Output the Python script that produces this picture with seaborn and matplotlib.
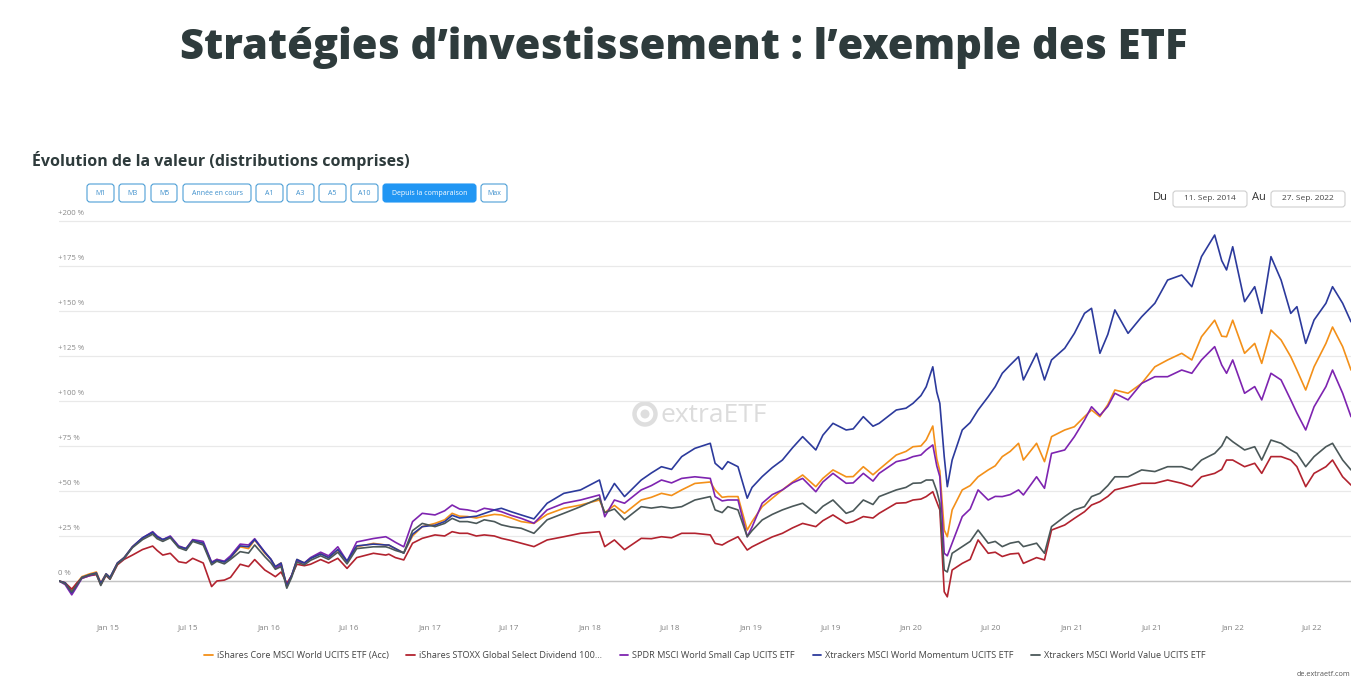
import matplotlib
matplotlib.use("Agg")
import matplotlib.pyplot as plt
import matplotlib.transforms as mtransforms
from matplotlib.patches import FancyBboxPatch, Circle
import seaborn as sns
import pandas as pd

# ---------------- data ----------------
dates = [
    "2014-09-11", "2014-09-25", "2014-10-10", "2014-10-22", "2014-11-02", "2014-11-20", "2014-12-05",
    "2014-12-15", "2014-12-27", "2015-01-05", "2015-01-22", "2015-02-06", "2015-02-25", "2015-03-20",
    "2015-04-12", "2015-04-22", "2015-05-05", "2015-05-22", "2015-06-10", "2015-06-27", "2015-07-12",
    "2015-08-05", "2015-08-24", "2015-09-05", "2015-09-22", "2015-10-06", "2015-10-28", "2015-11-16",
    "2015-11-30", "2015-12-23", "2016-01-06", "2016-01-16", "2016-01-29", "2016-02-11", "2016-02-22",
    "2016-03-05", "2016-03-22", "2016-04-05", "2016-04-28", "2016-05-16", "2016-06-06", "2016-06-27",
    "2016-07-19", "2016-08-26", "2016-09-23", "2016-09-30", "2016-10-15", "2016-11-03", "2016-11-23",
    "2016-12-15", "2017-01-13", "2017-02-04", "2017-02-21", "2017-03-10", "2017-03-28", "2017-04-17",
    "2017-05-05", "2017-05-28", "2017-06-13", "2017-07-05", "2017-07-28", "2017-08-26", "2017-09-25",
    "2017-11-02", "2017-12-10", "2018-01-22", "2018-02-03", "2018-02-25", "2018-03-20", "2018-04-27",
    "2018-05-20", "2018-06-12", "2018-07-05", "2018-07-28", "2018-08-27", "2018-10-01", "2018-10-12",
    "2018-10-28", "2018-11-10", "2018-12-03", "2018-12-24", "2019-01-04", "2019-01-27", "2019-02-19",
    "2019-03-14", "2019-04-06", "2019-04-29", "2019-05-29", "2019-06-14", "2019-07-07", "2019-08-06",
    "2019-08-22", "2019-09-14", "2019-10-06", "2019-10-20", "2019-11-28", "2019-12-20", "2020-01-05",
    "2020-01-23", "2020-02-04", "2020-02-19", "2020-02-28", "2020-03-06", "2020-03-16", "2020-03-23",
    "2020-04-03", "2020-04-26", "2020-05-14", "2020-06-01", "2020-06-24", "2020-07-10", "2020-07-26",
    "2020-08-13", "2020-09-01", "2020-09-12", "2020-10-12", "2020-10-30", "2020-11-15", "2020-12-15",
    "2021-01-06", "2021-01-29", "2021-02-14", "2021-03-05", "2021-03-23", "2021-04-08", "2021-05-08",
    "2021-06-08", "2021-07-08", "2021-08-06", "2021-09-07", "2021-09-30", "2021-10-22", "2021-11-21",
    "2021-12-07", "2021-12-18", "2022-01-01", "2022-01-28", "2022-02-20", "2022-03-08", "2022-03-29",
    "2022-04-21", "2022-05-13", "2022-05-27", "2022-06-16", "2022-07-05", "2022-08-01", "2022-08-16",
    "2022-09-08", "2022-09-27",
]

ishares_core_world = [
    0, -1, -5.5, -1, 2.4, 4, 5, -1, 4, 2, 10, 13, 19, 23.8, 27, 24, 22.8, 24.6, 19, 18, 22.8,
    20.9, 10, 12, 10.7, 13, 19, 18, 22.8, 15.4, 12, 8, 10, -3, 3, 11.9, 10, 12.6, 15.4, 13, 17.2,
    10.7, 19, 20.9, 20, 19.9, 18, 15.6, 25, 30.2, 32, 34, 37.6, 36, 35.8, 35, 36, 37, 36.7, 35, 33,
    32, 37, 40.4, 42.2, 45, 38, 42, 37.6, 45, 46.5, 48.7, 47.5, 50.6, 54.2, 55, 50.6, 46.5, 46.9,
    46.9, 28.3, 33, 41.3, 46, 50.6, 55, 58.9, 52.4, 57, 61.7, 57.9, 58, 63.5, 59, 62, 70, 72, 74.6,
    75, 78.4, 86.1, 68, 61.1, 28.3, 24.6, 39.5, 50.6, 53, 57.9, 61.7, 64, 69.1, 72, 76.5, 67.2,
    76.5, 66.3, 80.2, 83.9, 85.7, 91.3, 95, 91.3, 98, 106.1, 104.3, 109.8, 119, 122.8, 126.5, 122.8,
    135.7, 144.9, 136, 135.7, 144.9, 126.5, 132, 120.9, 139.4, 133.9, 124.6, 117.2, 106.1, 119, 132,
    141.1, 130.2, 117.2,
]

ishares_stoxx_dividend = [
    0, -1, -4.5, -1, 1.5, 3, 3.5, -2, 3, 1, 9, 12, 14.4, 17.5, 19.4, 17, 14.4, 15.4, 10.7, 10, 12.6,
    10, -3.1, 0, 0.5, 2, 9.3, 8, 11.9, 6.1, 4, 2.4, 5, -1.3, 3, 9.3, 8.5, 9.3, 11.9, 10, 12.6, 7, 13,
    15.4, 14.4, 14.9, 13, 11.7, 21, 23.7, 25.6, 25, 27.4, 26.5, 26.5, 25, 25.6, 25, 23.7, 22.5, 21,
    19.1, 22.8, 24.6, 26.5, 27.4, 19.1, 22.8, 17.4, 23.7, 23.5, 24.6, 24, 26.5, 26.5, 25.6, 20.9, 20,
    21.8, 24.6, 17.2, 19, 21.8, 24.5, 26.5, 29.5, 32, 30.2, 33.5, 36.7, 32, 33, 35.8, 35, 37.6, 43.2,
    43.5, 45, 45.5, 46.9, 49.6, 44, 39.5, -6, -8.8, 6.1, 9.8, 12, 22.8, 15.4, 16, 13.6, 15, 15.4, 9.8,
    13, 11.7, 28.3, 31.1, 34.8, 38.5, 42.2, 44.1, 47, 50.6, 52.4, 54.3, 54.3, 56.1, 54.3, 52.4, 57.9,
    59.8, 62, 67.2, 67.2, 63.5, 65.4, 59.8, 69.1, 69.1, 67.2, 63.5, 52.4, 59.8, 63.5, 67.2, 57.9, 53.3,
]

spdr_world_small_cap = [
    0, -2, -7.7, -3, 1.5, 3, 4, -1.5, 3.5, 1.5, 10, 12.5, 19, 24, 27.4, 25, 23, 25, 19.5, 18, 23, 22,
    10.5, 12, 11, 14, 20.5, 20, 23.5, 16, 12, 7, 9, -3, 3, 11, 10, 13, 16, 14, 19, 11, 21.7, 23.6,
    24.6, 23.7, 21.5, 19, 33, 37.6, 36.7, 39, 42.2, 40, 39.5, 38.5, 40.4, 39.5, 38.5, 36.5, 34.8,
    32.1, 39.5, 43.2, 45, 47.8, 35.7, 45, 43.2, 50.6, 53, 56.1, 54.5, 57, 57.9, 57, 46.9, 44.5, 45,
    45, 24.6, 30, 43.2, 48, 50.6, 54.5, 57, 49.6, 55, 59.8, 54.3, 54.5, 59.8, 55.5, 59.8, 66.3, 67.5,
    69.1, 70, 72.8, 75.6, 64, 58, 15.4, 14, 21, 35.8, 40, 50.6, 45, 47, 46.9, 48, 50.6, 47.8, 57.9,
    51.5, 70.9, 72.8, 80.2, 89.4, 96.8, 92, 97, 104.3, 100.6, 109.8, 113.5, 113.5, 117.2, 115.4,
    122.8, 130.2, 120, 115.4, 122.8, 104.3, 108, 100.6, 115.4, 111.7, 100.6, 93.3, 83.9, 96.8, 108,
    117.2, 104.3, 91.3,
]

xtrackers_momentum = [
    0, -1, -6.5, -2, 2, 3.5, 4.5, -1.5, 4, 2, 10, 13, 19, 24, 27, 24.5, 23, 24.5, 19, 18, 22.5, 21,
    10, 11.5, 10.5, 13, 19.5, 19, 23, 16, 12, 8, 10, -3, 3, 12, 10, 12.5, 15, 13, 17.5, 11, 19.5,
    20.5, 20, 20, 18, 15.5, 26, 30.2, 31, 33, 36.5, 35, 35.5, 36, 37.5, 39.5, 40.4, 38.5, 36.7, 34.5,
    43.2, 48.7, 50.6, 56.1, 45, 54.2, 46.9, 56.1, 60, 63.5, 62, 69.1, 73.7, 76.5, 65.4, 62, 66.3,
    63.5, 46, 52, 58, 63, 67.2, 74, 80.2, 72.8, 81, 87.6, 83.9, 84.5, 91.3, 86, 87.6, 95, 96, 98.7,
    103, 107.9, 119, 105, 98.7, 69.1, 52.4, 67.2, 83.9, 88, 95, 102.4, 108, 115.4, 120, 124.6, 111.7,
    126.5, 111.7, 122.8, 129.3, 137.6, 148.7, 151.5, 126.5, 137, 150.6, 137.6, 146.8, 154.3, 167.2,
    170, 163.5, 180.2, 192.2, 178, 172.8, 185.7, 155.2, 163.5, 148.7, 180.2, 167.2, 148.7, 152.4,
    132, 145, 154.3, 163.5, 154.3, 144,
]

xtrackers_value = [
    0, -1.5, -6, -2, 1.8, 3.5, 4, -2.5, 3.5, 1, 9.5, 12.5, 18.5, 23, 26, 23.5, 22, 24, 18.5, 17, 22,
    20, 9, 11, 9.5, 12, 16.3, 15.5, 20, 13.5, 10, 6.5, 8, -4, 2, 10.5, 9, 11.5, 14, 12, 16, 9.5, 18,
    19, 19, 18.5, 17, 15.6, 28, 32, 30.2, 32, 34.8, 33, 33, 32, 34, 33, 31.2, 30, 29.3, 26.5, 34,
    37.6, 41.3, 46, 38, 40, 34, 41.3, 40.5, 41.3, 40.5, 41.3, 45, 46.9, 39.5, 38, 41.3, 39.5, 24.6,
    28, 33.9, 37, 39.5, 41.5, 43.2, 37.6, 41.5, 45, 37.6, 39, 45, 42.5, 46.9, 50.6, 52, 54.3, 54.5,
    56.1, 56.1, 50, 43.2, 6.1, 5, 15.4, 19.1, 22, 28.3, 21, 22, 19.1, 21, 21.9, 19.1, 21, 15.4, 30.2,
    35.8, 39.5, 41.3, 46.9, 48.7, 53, 57.9, 57.9, 61.7, 60.8, 63.5, 63.5, 61.7, 67.2, 70.9, 75, 80.2,
    77.4, 72.8, 74.6, 67.2, 78.3, 76.5, 72.8, 70.9, 63.5, 69.1, 74.6, 76.5, 67.2, 61.7,
]

series_names = [
    "iShares Core MSCI World UCITS ETF (Acc)",
    "iShares STOXX Global Select Dividend 100...",
    "SPDR MSCI World Small Cap UCITS ETF",
    "Xtrackers MSCI World Momentum UCITS ETF",
    "Xtrackers MSCI World Value UCITS ETF",
]
series_colors = ["#f39019", "#b2232f", "#7e24b0", "#2c3a9c", "#4b5859"]

y_ticks = [0, 25, 50, 75, 100, 125, 150, 175, 200]
y_tick_labels = ["0 %", "+25 %", "+50 %", "+75 %", "+100 %", "+125 %", "+150 %", "+175 %", "+200 %"]
x_tick_dates = ["2015-01-01", "2015-07-01", "2016-01-01", "2016-07-01", "2017-01-01", "2017-07-01",
                "2018-01-01", "2018-07-01", "2019-01-01", "2019-07-01", "2020-01-01", "2020-07-01",
                "2021-01-01", "2021-07-01", "2022-01-01", "2022-07-01"]
x_tick_labels = ["Jan 15", "Jul 15", "Jan 16", "Jul 16", "Jan 17", "Jul 17", "Jan 18", "Jul 18",
                 "Jan 19", "Jul 19", "Jan 20", "Jul 20", "Jan 21", "Jul 21", "Jan 22", "Jul 22"]
range_buttons = ["M1", "M3", "M5", "Année en cours", "A1", "A3", "A5", "A10", "Depuis la comparaison", "Max"]
active_button = "Depuis la comparaison"
date_from = "11. Sep. 2014"
date_to = "27. Sep. 2022"

title = "Stratégies d\u2019investissement : l\u2019exemple des ETF"
subtitle = "Évolution de la valeur (distributions comprises)"

# ---------------- build long table ----------------
wide = pd.DataFrame({
    "date": pd.to_datetime(dates),
    series_names[0]: ishares_core_world,
    series_names[1]: ishares_stoxx_dividend,
    series_names[2]: spdr_world_small_cap,
    series_names[3]: xtrackers_momentum,
    series_names[4]: xtrackers_value,
})
df = wide.melt(id_vars="date", var_name="series", value_name="value")

# ---------------- style ----------------
sns.set_theme(style="white")
plt.rcParams["font.family"] = ["Open Sans", "DejaVu Sans"]

W, H = 1368, 684
fig = plt.figure(figsize=(W / 100, H / 100), dpi=100)
fig.patch.set_facecolor("white")
# pixel transform (origin top-left)
px = mtransforms.Affine2D().scale(1 / W, -1 / H).translate(0, 1) + fig.transFigure

ax_left, ax_right, ax_top, ax_bottom = 59, 1351, 208.4, 608
ax = fig.add_axes([ax_left / W, 1 - ax_bottom / H, (ax_right - ax_left) / W, (ax_bottom - ax_top) / H])

sns.lineplot(data=df, x="date", y="value", hue="series", hue_order=series_names,
             palette=dict(zip(series_names, series_colors)), linewidth=1.2, ax=ax, zorder=3)

ax.set_xlim(pd.Timestamp("2014-09-11"), pd.Timestamp("2022-09-27"))
ax.set_ylim(-15, 207)
for s in ax.spines.values():
    s.set_visible(False)
ax.set_xlabel("")
ax.set_ylabel("")

ax.set_yticks(y_ticks)
ax.tick_params(axis="y", length=0, labelleft=False)
ax.grid(axis="y", color="#e9e9e9", linewidth=0.9)
ax.grid(axis="x", visible=False)
ax.axhline(0, color="#c4c4c4", linewidth=1.0, zorder=1)

ytrans = mtransforms.blended_transform_factory(ax.transAxes, ax.transData)
for v, lab in zip(y_ticks, y_tick_labels):
    ax.text(-0.001, v + 2.2, lab, transform=ytrans, ha="left", va="bottom",
            fontsize=5.6, color="#8a8a8a")

ax.set_xticks(pd.to_datetime(x_tick_dates))
ax.set_xticklabels(x_tick_labels)
ax.tick_params(axis="x", length=0, pad=12, labelsize=5.8, labelcolor="#808080")

# legend
sns.move_legend(ax, "center", bbox_to_anchor=(0.5, -0.12), ncol=5, frameon=False, title=None,
                fontsize=6.6, handlelength=0.9, columnspacing=1.9, handletextpad=0.5)
for t in ax.get_legend().get_texts():
    t.set_color("#444444")
for l in ax.get_legend().get_lines():
    l.set_linewidth(1.3)

# watermark
ax.add_patch(Circle((645, 414), 10.5, transform=px, fill=False, ec="#dedede", lw=3.2, zorder=0.5))
ax.add_patch(Circle((645, 414), 4.5, transform=px, fc="#dedede", ec="none", zorder=0.5))
ax.text(660, 415, "extraETF", transform=px, ha="left", va="center", fontsize=19,
        color="#dcdcdc", zorder=0.5)

# title and subtitle
fig.text(0.5, 1 - 48 / H, title, ha="center", va="center", fontsize=30, fontweight="heavy",
         color="#2e3b3c")
fig.text(32 / W, 1 - 160 / H, subtitle, ha="left", va="center", fontsize=11.5, fontweight="bold",
         color="#2e3b3c")

# range buttons
button_bounds = [(87, 114), (119, 145), (151, 177), (183, 251), (256, 283), (287, 314),
                 (319, 346), (351, 378), (383, 476), (481, 507)]
for lab, (x0, x1) in zip(range_buttons, button_bounds):
    active = lab == active_button
    fig.patches.append(FancyBboxPatch((x0, 184), x1 - x0, 18, boxstyle="round,pad=0,rounding_size=3",
                                      transform=px, fc="#2196f3" if active else "white",
                                      ec="#2196f3" if active else "#4d9fd6", lw=0.8))
    fig.text((x0 + x1) / 2, 193.5, lab, transform=px, ha="center", va="center", fontsize=5.0,
             color="white" if active else "#3d8fcc")

# date range
fig.text(1160, 198, "Du", transform=px, ha="center", va="center", fontsize=8, color="#333333")
fig.text(1259, 198, "Au", transform=px, ha="center", va="center", fontsize=8, color="#333333")
for (x0, x1), lab in zip([(1173, 1247), (1271, 1345)], [date_from, date_to]):
    fig.patches.append(FancyBboxPatch((x0, 191), x1 - x0, 16, boxstyle="round,pad=0,rounding_size=3",
                                      transform=px, fc="white", ec="#cfcfcf", lw=0.8))
    fig.text((x0 + x1) / 2, 199, lab, transform=px, ha="center", va="center", fontsize=6.0,
             color="#444444")

fig.text(1350, 675, "de.extraetf.com", transform=px, ha="right", va="center", fontsize=5.2,
         color="#555555")

fig.savefig("out.png", dpi=100, facecolor="white")
